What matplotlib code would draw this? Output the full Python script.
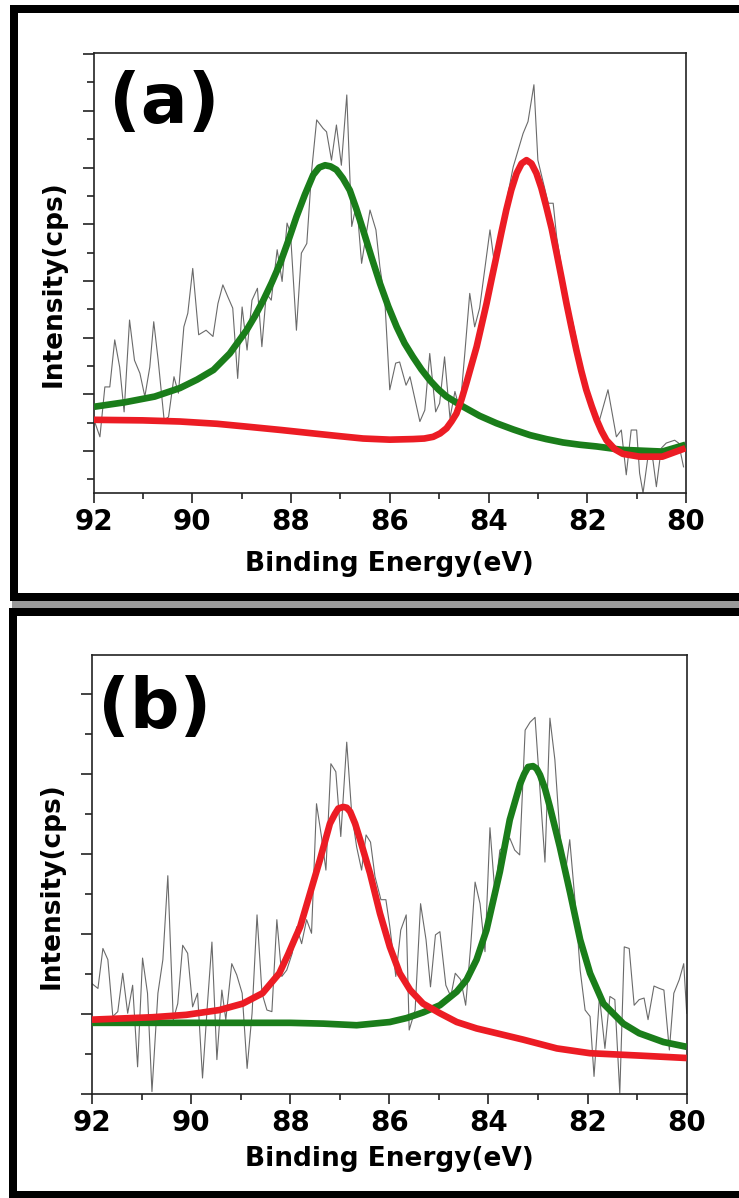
import matplotlib
matplotlib.use("Agg")
import matplotlib.pyplot as plt
from matplotlib.patches import Rectangle
from matplotlib.ticker import MultipleLocator

# ---------------- data (binding energy in eV, intensity in arbitrary cps units) ----------------
xticks = [92, 90, 88, 86, 84, 82, 80]
xtick_labels = ['92', '90', '88', '86', '84', '82', '80']

# Panel (a) raw spectrum
a_raw_x = [91.99, 91.87, 91.77, 91.67, 91.57, 91.47, 91.38, 91.27, 91.17, 91.06, 90.96, 90.86,
           90.78, 90.69, 90.57, 90.48, 90.37, 90.28, 90.17, 90.09, 89.99, 89.87, 89.72, 89.58,
           89.48, 89.38, 89.28, 89.18, 89.08, 88.99, 88.89, 88.79, 88.68, 88.59, 88.50, 88.40,
           88.28, 88.18, 88.08, 88.01, 87.89, 87.79, 87.68, 87.58, 87.48, 87.35, 87.28, 87.18,
           87.08, 86.98, 86.87, 86.77, 86.67, 86.57, 86.40, 86.28, 86.20, 86.10, 86.00, 85.88,
           85.80, 85.67, 85.59, 85.39, 85.29, 85.19, 85.07, 84.99, 84.89, 84.78, 84.68, 84.58,
           84.48, 84.38, 84.28, 84.18, 83.97, 83.89, 83.77, 83.63, 83.50, 83.30, 83.20, 83.08,
           83.00, 82.79, 82.69, 82.62, 82.39, 82.29, 82.19, 82.09, 81.95, 81.75, 81.58, 81.41,
           81.31, 81.21, 81.11, 81.00, 80.94, 80.87, 80.77, 80.67, 80.60, 80.50, 80.40, 80.23,
           80.15, 80.05]
a_raw_y = [0.55, 0.25, 1.13, 1.13, 1.96, 1.48, 0.69, 2.31, 1.60, 1.37, 0.96, 1.48,
           2.28, 1.60, 0.55, 0.60, 1.31, 1.02, 2.19, 2.43, 3.22, 2.05, 2.13, 2.02,
           2.60, 2.93, 2.72, 2.52, 1.28, 2.54, 1.78, 2.66, 2.87, 1.84, 2.78, 2.66,
           3.55, 2.99, 4.02, 3.84, 2.13, 3.49, 3.66, 4.96, 5.84, 5.69, 5.63, 5.13,
           5.75, 5.04, 6.28, 3.96, 4.37, 3.31, 4.25, 3.90, 3.25, 2.66, 1.08, 1.55,
           1.57, 1.16, 1.31, 0.52, 0.72, 1.72, 0.69, 0.84, 1.66, 0.58, 1.05, 0.72,
           1.72, 2.78, 2.19, 2.52, 3.90, 3.37, 3.81, 4.43, 5.01, 5.60, 5.81, 6.46,
           5.13, 4.37, 4.37, 3.78, 2.54, 2.26, 1.84, 1.25, 0.85, 0.55, 1.08, 0.25,
           0.37, -0.42, 0.37, 0.37, -0.39, -0.74, -0.10, -0.16, -0.63, 0.05, 0.14, 0.19,
           0.14, -0.28]

# Panel (a) fitted components
a_green_x = [91.99, 91.36, 90.76, 90.25, 89.90, 89.57, 89.24, 88.90, 88.73, 88.56, 88.39, 88.22,
             88.05, 87.89, 87.72, 87.55, 87.43, 87.31, 87.20, 87.08, 86.95, 86.81, 86.68, 86.54,
             86.37, 86.20, 86.03, 85.86, 85.70, 85.53, 85.36, 85.19, 85.02, 84.85, 84.51, 84.18,
             83.84, 83.50, 83.16, 82.83, 82.49, 82.15, 81.81, 81.29, 80.48, 80.01]
a_green_y = [0.78, 0.86, 0.96, 1.11, 1.26, 1.43, 1.72, 2.13, 2.38, 2.66, 2.97, 3.31,
             3.72, 4.13, 4.52, 4.87, 5.00, 5.04, 5.02, 4.96, 4.81, 4.60, 4.28, 3.90,
             3.42, 2.96, 2.55, 2.19, 1.90, 1.66, 1.44, 1.25, 1.09, 0.96, 0.78, 0.62,
             0.49, 0.38, 0.28, 0.21, 0.15, 0.11, 0.08, 0.02, -0.01, 0.11]
a_red_x = [91.99, 91.00, 90.25, 89.50, 88.90, 88.20, 87.55, 87.00, 86.54, 86.00, 85.53, 85.30,
           85.12, 84.98, 84.85, 84.75, 84.65, 84.55, 84.45, 84.35, 84.24, 84.14, 84.04, 83.94,
           83.84, 83.74, 83.64, 83.54, 83.43, 83.33, 83.23, 83.13, 83.03, 82.93, 82.83, 82.72,
           82.62, 82.52, 82.42, 82.32, 82.22, 82.12, 82.02, 81.91, 81.81, 81.71, 81.61, 81.44,
           81.28, 80.94, 80.48, 80.01]
a_red_y = [0.55, 0.54, 0.52, 0.48, 0.43, 0.37, 0.31, 0.26, 0.22, 0.20, 0.21, 0.22,
           0.25, 0.31, 0.40, 0.52, 0.66, 0.90, 1.19, 1.50, 1.84, 2.22, 2.60, 3.02,
           3.43, 3.85, 4.25, 4.60, 4.90, 5.07, 5.13, 5.07, 4.90, 4.64, 4.31, 3.92,
           3.49, 3.05, 2.60, 2.18, 1.78, 1.41, 1.08, 0.79, 0.55, 0.35, 0.19, 0.03,
           -0.05, -0.10, -0.10, 0.05]

# Panel (b) raw spectrum
b_raw_x = [92.00, 91.88, 91.78, 91.68, 91.58, 91.48, 91.38, 91.28, 91.18, 91.08, 90.98, 90.88,
           90.79, 90.67, 90.57, 90.47, 90.36, 90.27, 90.17, 90.07, 89.97, 89.87, 89.77, 89.67,
           89.58, 89.48, 89.38, 89.30, 89.18, 89.08, 88.97, 88.87, 88.77, 88.67, 88.57, 88.47,
           88.37, 88.27, 88.17, 88.07, 87.96, 87.87, 87.77, 87.67, 87.57, 87.47, 87.37, 87.28,
           87.18, 87.08, 86.98, 86.86, 86.76, 86.66, 86.56, 86.47, 86.38, 86.29, 86.17, 86.07,
           85.99, 85.87, 85.77, 85.66, 85.60, 85.48, 85.37, 85.26, 85.17, 85.07, 84.98, 84.86,
           84.76, 84.67, 84.56, 84.46, 84.36, 84.27, 84.17, 84.07, 83.97, 83.87, 83.77, 83.67,
           83.57, 83.47, 83.37, 83.26, 83.16, 83.06, 82.96, 82.86, 82.76, 82.66, 82.56, 82.46,
           82.36, 82.25, 82.15, 82.05, 81.95, 81.87, 81.76, 81.65, 81.55, 81.45, 81.35, 81.26,
           81.16, 81.06, 80.96, 80.86, 80.78, 80.66, 80.55, 80.46, 80.35, 80.26, 80.15, 80.06,
           80.00]
b_raw_y = [1.38, 1.32, 1.82, 1.68, 0.97, 1.03, 1.51, 1.01, 1.36, 0.34, 1.70, 1.26,
           0.03, 1.26, 1.68, 2.73, 0.93, 1.13, 1.86, 1.76, 1.09, 1.26, 0.20, 1.13,
           1.90, 0.43, 1.30, 0.93, 1.63, 1.49, 1.26, 0.32, 1.01, 2.24, 1.26, 1.05,
           1.03, 2.18, 1.47, 1.55, 1.76, 2.09, 1.88, 2.18, 2.01, 3.63, 3.22, 2.80,
           4.13, 4.03, 3.22, 4.40, 3.51, 3.09, 2.80, 3.24, 3.15, 2.72, 2.43, 2.43,
           2.09, 1.47, 2.05, 2.24, 0.80, 1.05, 2.38, 1.93, 1.34, 1.99, 2.03, 1.36,
           1.22, 1.51, 1.43, 1.11, 1.84, 2.65, 2.38, 1.78, 3.33, 2.51, 3.05, 3.11,
           3.20, 3.05, 2.99, 4.55, 4.65, 4.71, 3.80, 2.90, 4.70, 4.18, 3.26, 2.71,
           3.18, 2.39, 1.55, 1.05, 0.97, 0.22, 1.22, 0.57, 1.22, 1.18, 0.01, 1.84,
           1.82, 1.11, 1.18, 1.20, 0.93, 1.35, 1.32, 1.30, 0.55, 1.26, 1.43, 1.63,
           1.01]

# Panel (b) fitted components
b_red_x = [92.00, 90.78, 90.10, 89.43, 88.96, 88.56, 88.22, 88.04, 87.88, 87.80, 87.60, 87.40,
           87.20, 87.10, 87.03, 86.93, 86.86, 86.79, 86.69, 86.59, 86.39, 86.19, 85.99, 85.79,
           85.58, 85.32, 84.98, 84.64, 84.24, 83.97, 83.30, 82.62, 81.95, 80.94, 80.00]
b_red_y = [0.93, 0.96, 0.99, 1.05, 1.13, 1.26, 1.51, 1.75, 1.98, 2.09, 2.51, 2.93,
           3.38, 3.50, 3.57, 3.59, 3.58, 3.53, 3.38, 3.18, 2.76, 2.26, 1.84, 1.51,
           1.30, 1.13, 1.01, 0.90, 0.82, 0.78, 0.68, 0.57, 0.51, 0.48, 0.45]
b_green_x = [92.00, 90.02, 88.00, 87.33, 86.66, 85.99, 85.65, 85.32, 84.98, 84.64, 84.44, 84.24,
             84.04, 83.77, 83.57, 83.36, 83.28, 83.20, 83.10, 83.03, 82.96, 82.86, 82.76, 82.56,
             82.35, 82.15, 81.95, 81.68, 81.28, 80.96, 80.47, 80.00]
b_green_y = [0.89, 0.89, 0.89, 0.88, 0.86, 0.90, 0.95, 1.02, 1.11, 1.28, 1.43, 1.68,
             2.05, 2.78, 3.43, 3.88, 4.00, 4.09, 4.10, 4.07, 3.99, 3.82, 3.59, 3.09,
             2.51, 1.93, 1.51, 1.13, 0.88, 0.76, 0.65, 0.59]

panel_labels = ['(a)', '(b)']
xlabel = 'Binding Energy(eV)'
ylabel = 'Intensity(cps)'

# ---------------- figure ----------------
W, H = 739, 1198
plt.rcParams['font.family'] = ['DejaVu Sans']
fig = plt.figure(figsize=(W / 100, H / 100), dpi=100)


def box(x0, y0, x1, y1, color):
    fig.add_artist(Rectangle((x0 / W, 1 - y1 / H), (x1 - x0) / W, (y1 - y0) / H,
                             transform=fig.transFigure, facecolor=color,
                             edgecolor='none', zorder=10))


# outer frames (right side runs off the image)
box(10, 5, 760, 13, 'black')
box(10, 593, 760, 601, 'black')
box(10, 5, 18, 601, 'black')
box(12, 601, 760, 608, '#9a9a9a')
box(9, 608, 760, 616, 'black')
box(9, 1191, 760, 1198, 'black')
box(9, 608, 17, 1198, 'black')

axA = fig.add_axes([93.5 / W, 1 - 493 / H, (686 - 93.5) / W, (493 - 53) / H])
axB = fig.add_axes([92 / W, 1 - 1094 / H, (686.7 - 92) / W, (1094 - 655) / H])

GRAY = '#6a6a6a'
GREEN = '#1a7d1a'
RED = '#ec1c24'
LW = 4.8

axA.plot(a_raw_x, a_raw_y, color=GRAY, lw=0.8, zorder=2)
axA.plot(a_green_x, a_green_y, color=GREEN, lw=LW, solid_joinstyle='round', solid_capstyle='butt', zorder=3)
axA.plot(a_red_x, a_red_y, color=RED, lw=LW, solid_joinstyle='round', solid_capstyle='butt', zorder=4)

axB.plot(b_raw_x, b_raw_y, color=GRAY, lw=0.8, zorder=2)
axB.plot(b_green_x, b_green_y, color=GREEN, lw=LW, solid_joinstyle='round', solid_capstyle='butt', zorder=3)
axB.plot(b_red_x, b_red_y, color=RED, lw=LW, solid_joinstyle='round', solid_capstyle='butt', zorder=4)

axA.set_ylim(-0.741, 7.02)
axB.set_ylim(0, 5.49)

for ax, lab, lpos, xl_y in [(axA, panel_labels[0], (0.026, 0.886), -0.132),
                            (axB, panel_labels[1], (0.010, 0.879), -0.118)]:
    ax.set_xlim(92, 80)
    ax.set_xticks(xticks)
    ax.set_xticklabels(xtick_labels, fontsize=20, fontweight='bold')
    ax.xaxis.set_minor_locator(MultipleLocator(1))
    ax.yaxis.set_major_locator(MultipleLocator(1))
    ax.yaxis.set_minor_locator(MultipleLocator(0.5))
    ax.tick_params(axis='both', which='both', direction='out', top=False, right=False,
                   color='#222222', width=1.2)
    ax.tick_params(axis='x', which='major', length=7, pad=4)
    ax.tick_params(axis='x', which='minor', length=4)
    ax.tick_params(axis='y', which='major', length=8, labelleft=False)
    ax.tick_params(axis='y', which='minor', length=5)
    for s in ax.spines.values():
        s.set_linewidth(1.2)
        s.set_color('#222222')
    ax.set_xlabel(xlabel, fontsize=19, fontweight='bold')
    ax.xaxis.set_label_coords(0.5, xl_y)
    ax.set_ylabel(ylabel, fontsize=19, fontweight='bold')
    ax.yaxis.set_label_coords(-0.046, 0.475)
    ax.text(lpos[0], lpos[1], lab, transform=ax.transAxes, fontsize=50,
            fontweight='bold', ha='left', va='center')

fig.savefig('out.png', dpi=100, facecolor='white')
